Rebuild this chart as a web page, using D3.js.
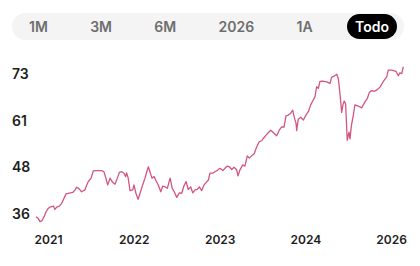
<!DOCTYPE html>
<html>
<head>
<meta charset="utf-8">
<script src="https://cdn.jsdelivr.net/npm/d3@7"></script>
<style>
  body { margin: 0; background: #fff; font-family: Inter, "Noto Sans", sans-serif; }
  #wrap { position: relative; width: 420px; height: 266px; overflow: hidden; }
  #tabs {
    position: absolute; left: 12px; top: 13px; width: 392px; height: 27px;
    box-sizing: border-box; padding: 1px 7px 1px 9px;
    background: #f4f4f4; border-radius: 13.5px;
    display: flex; justify-content: space-between; align-items: center;
  }
  .tab { padding: 0 8px; height: 25px; line-height: 25px; font-size: 14px; font-weight: 600; color: #6e6e6e; border-radius: 12.5px; }
  .tab.active { background: #000; color: #fff; font-weight: 600; }
  svg { position: absolute; left: 0; top: 0; }
</style>
</head>
<body>
<div id="wrap">
  <div id="tabs"></div>
  <svg id="chart" width="420" height="266"></svg>
</div>
<script>
// range buttons
const tabs = ["1M", "3M", "6M", "2026", "1A", "Todo"];
const activeTab = "Todo";

// day offset of each sample, and closing value
const days = [0, 10, 20, 30, 41, 51, 62, 74, 88, 96, 105, 118, 130, 142, 152, 169, 186, 198, 206, 216,
  231, 248, 257, 265, 279, 290, 307, 333, 344, 354, 363, 375, 388, 400, 412, 422, 434, 446, 454, 459,
  467, 476, 490, 496, 506, 517, 527, 540, 552, 561, 569, 577, 587, 598, 608, 619, 632, 642, 653, 665,
  679, 690, 700, 713, 726, 738, 749, 760, 771, 783, 794, 805, 817, 827, 839, 851, 861, 873, 881, 895,
  906, 917, 932, 946, 957, 969, 979, 991, 1003, 1016, 1023, 1033, 1047, 1058, 1070, 1080, 1092, 1104, 1118, 1131,
  1143, 1151, 1165, 1176, 1189, 1202, 1219, 1232, 1244, 1256, 1266, 1278, 1290, 1300, 1308, 1317, 1320, 1328, 1340, 1354,
  1367, 1379, 1391, 1404, 1413, 1421, 1430, 1438, 1452, 1472, 1489, 1497, 1509, 1523, 1531, 1539, 1548, 1555, 1561, 1568,
  1576, 1585, 1590, 1598, 1607, 1615, 1632, 1649, 1666, 1678, 1688, 1700, 1712, 1725, 1742, 1759, 1776, 1784, 1801, 1823,
  1835, 1843, 1852, 1860];
const values = [35.3, 34.9, 34.0, 34.2, 35.3, 36.6, 37.5, 37.9, 38.1, 37.2, 37.8, 38.1, 38.8, 40.2, 41.3, 41.5, 41.7, 42.4, 43.1, 42.8,
  41.9, 42.4, 43.7, 44.6, 45.5, 47.4, 47.5, 47.5, 47.2, 45.5, 43.7, 45.5, 44.4, 43.9, 45.5, 47.0, 47.2, 46.8, 45.9, 46.9,
  45.5, 42.2, 42.4, 43.7, 41.5, 39.9, 41.5, 43.7, 45.5, 47.2, 48.5, 47.2, 45.5, 45.9, 44.8, 43.7, 41.9, 43.4, 43.2, 42.8,
  45.5, 42.8, 41.9, 40.4, 41.6, 41.5, 43.4, 44.6, 42.5, 43.2, 41.6, 42.4, 42.5, 43.2, 42.2, 43.7, 44.3, 45.0, 46.8, 46.8,
  47.2, 47.5, 48.1, 47.5, 48.1, 48.7, 48.5, 47.8, 48.4, 47.7, 46.1, 47.7, 49.0, 48.7, 51.4, 50.8, 51.4, 51.9, 53.8, 55.2,
  55.4, 56.0, 56.9, 57.5, 58.2, 57.5, 56.7, 58.2, 59.1, 59.0, 62.0, 62.2, 62.7, 63.5, 61.6, 60.0, 58.1, 61.1, 61.6, 60.9,
  62.2, 63.1, 64.9, 66.2, 67.1, 69.7, 69.3, 71.1, 71.2, 71.0, 70.6, 72.2, 72.5, 73.0, 71.8, 68.0, 62.9, 65.1, 65.9, 65.1,
  55.5, 57.7, 55.9, 59.7, 62.2, 64.9, 64.6, 64.1, 65.7, 66.6, 68.2, 68.7, 68.5, 68.8, 69.6, 71.1, 72.3, 74.1, 74.1, 73.8,
  72.6, 73.4, 73.2, 75.0];

// axis labels
const xTickDays = [61, 495, 930, 1364, 1798];
const xTickLabels = ["2021", "2022", "2023", "2024", "2026"];
const yTicks = [36, 48.33, 60.67, 73];

const data = days.map((d, i) => ({ day: d, value: values[i] }));

// tabs
d3.select("#tabs").selectAll(".tab")
  .data(tabs)
  .enter()
  .append("div")
  .attr("class", (d) => "tab" + (d === activeTab ? " active" : ""))
  .text((d) => d);

const svg = d3.select("#chart");

const x = d3.scaleLinear().domain([0, 1860]).range([36, 403.3]);
const y = d3.scaleLinear().domain([36, 73]).range([214, 74.3]);

// y labels
svg.append("g")
  .selectAll("text")
  .data(yTicks)
  .enter()
  .append("text")
  .attr("x", 12)
  .attr("y", (d) => y(d))
  .attr("dy", "0.35em")
  .style("font-size", "14px")
  .style("font-weight", 600)
  .style("fill", "#1e1e1e")
  .text((d) => Math.round(d));

// x labels
const xAxis = d3.axisBottom(x)
  .tickValues(xTickDays)
  .tickFormat((d, i) => xTickLabels[i])
  .tickSize(0)
  .tickPadding(0);

const gx = svg.append("g")
  .attr("transform", "translate(0,235)")
  .call(xAxis);
gx.select(".domain").remove();
gx.selectAll("text")
  .attr("dy", "0.71em")
  .style("font-family", "Inter, 'Noto Sans', sans-serif")
  .style("font-size", "12px")
  .style("font-weight", 600)
  .style("fill", "#1e1e1e");

// price line
const line = d3.line()
  .x((d) => x(d.day))
  .y((d) => y(d.value));

svg.append("path")
  .datum(data)
  .attr("d", line)
  .attr("fill", "none")
  .attr("stroke", "#d4557f")
  .attr("stroke-width", 1.3)
  .attr("stroke-linejoin", "round");
</script>
</body>
</html>
